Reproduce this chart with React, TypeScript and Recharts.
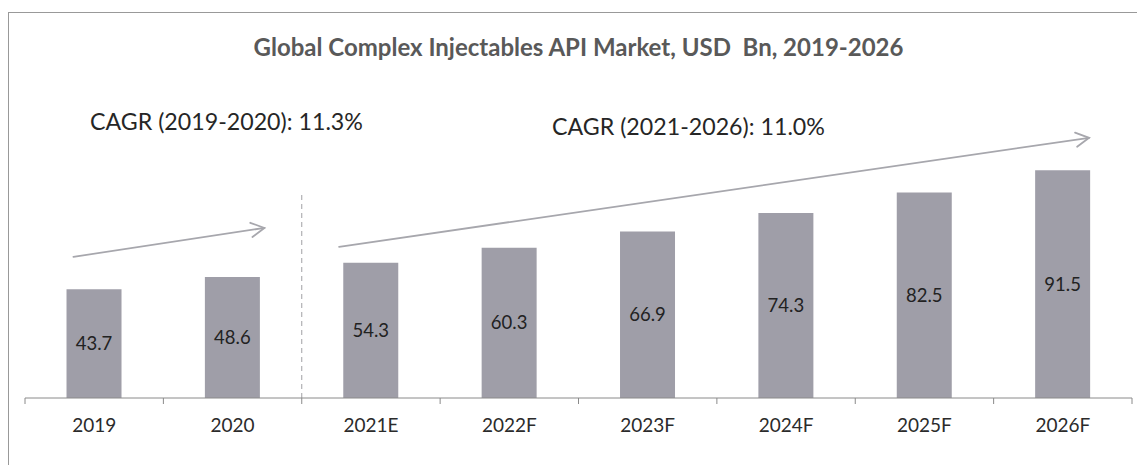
import { BarChart, Bar, XAxis, YAxis, LabelList, ReferenceLine } from "recharts";

const categories = ["2019", "2020", "2021E", "2022F", "2023F", "2024F", "2025F", "2026F"];
const marketSize = [43.7, 48.6, 54.3, 60.3, 66.9, 74.3, 82.5, 91.5];
const title = "Global Complex Injectables API Market, USD  Bn, 2019-2026";
const cagrLabels = ["CAGR (2019-2020): 11.3%", "CAGR (2021-2026): 11.0%"];

// arrow annotations, in (category slot, value) units
const historicArrow = [{ x: 0.35, y: 56.7 }, { x: 1.73, y: 68.3 }];
const forecastArrow = [{ x: 2.27, y: 60.7 }, { x: 7.69, y: 104.5 }];
const splitLine = [{ x: 2, y: 0 }, { x: 2, y: 81.6 }];

const chartData = categories.map((c, i) => ({ year: c, slot: i, value: marketSize[i] }));

const FONT = "Lato, 'Noto Sans', sans-serif";
const BAR = "#9f9ea8";
const AXIS = "#8a8a8a";
const ARROW = "#a7a7ad";

function YearTick(props: any) {
  const { x, y, payload, index } = props;
  const half = payload?.offset ?? 69;
  return (
    <g>
      <line x1={x - half} x2={x - half} y1={y} y2={y + 6} stroke={AXIS} />
      {index === categories.length - 1 && (
        <line x1={x + half} x2={x + half} y1={y} y2={y + 6} stroke={AXIS} />
      )}
      <text x={x} y={y + 34} textAnchor="middle" fontSize={19} fill="#2b2b2b" fontFamily={FONT}>
        {payload.value}
      </text>
    </g>
  );
}

function Arrow(props: any) {
  const { x1, y1, x2, y2 } = props;
  const ang = Math.atan2(y2 - y1, x2 - x1);
  const len = 15;
  const spread = 0.5;
  const ax = x2 - len * Math.cos(ang - spread);
  const ay = y2 - len * Math.sin(ang - spread);
  const bx = x2 - len * Math.cos(ang + spread);
  const by = y2 - len * Math.sin(ang + spread);
  return (
    <g stroke={ARROW} strokeWidth={1.8} fill="none" strokeLinecap="round">
      <line x1={x1} y1={y1} x2={x2} y2={y2} />
      <polyline points={`${ax},${ay} ${x2},${y2} ${bx},${by}`} />
    </g>
  );
}

export default function App() {
  return (
    <div style={{ position: "relative", width: 1137, height: 457, fontFamily: FONT }}>
      <div
        style={{
          position: "absolute",
          top: 4,
          left: 0,
          width: 1137,
          height: 453,
          borderTop: "1px solid #999",
          borderLeft: "1px solid #999",
          boxSizing: "border-box",
        }}
      />
      <div
        style={{
          position: "absolute",
          left: 170.5,
          top: 24,
          width: 800,
          textAlign: "center",
          fontSize: 24,
          lineHeight: "30px",
          fontWeight: 700,
          color: "#595959",
          whiteSpace: "pre",
        }}
      >
        {title}
      </div>
      <div style={{ position: "absolute", left: 82, top: 99, fontSize: 23.2, lineHeight: "28px", color: "#262626" }}>
        {cagrLabels[0]}
      </div>
      <div style={{ position: "absolute", left: 544, top: 104, fontSize: 23.2, lineHeight: "28px", color: "#262626" }}>
        {cagrLabels[1]}
      </div>
      <BarChart
        width={1137}
        height={457}
        data={chartData}
        margin={{ top: 141, right: 13, bottom: 37, left: 17 }}
        barCategoryGap="30%"
        style={{ position: "absolute", left: 0, top: 0 }}
      >
        <XAxis
          dataKey="year"
          height={30}
          axisLine={{ stroke: AXIS }}
          tickLine={false}
          tickSize={0}
          tickMargin={0}
          tick={<YearTick />}
          interval={0}
        />
        <XAxis xAxisId="n" dataKey="slot" type="number" domain={[0, 8]} allowDataOverflow hide />
        <YAxis hide domain={[0, 100]} width={0} />
        <Bar dataKey="value" fill={BAR} isAnimationActive={false}>
          <LabelList dataKey="value" position="center" fill="#222" fontSize={18.5} fontFamily={FONT} />
        </Bar>
        <ReferenceLine
          xAxisId="n"
          segment={splitLine}
          stroke="#a0a0a5"
          strokeDasharray="5 4"
          ifOverflow="visible"
        />
        <ReferenceLine xAxisId="n" segment={historicArrow} ifOverflow="visible" shape={<Arrow />} />
        <ReferenceLine xAxisId="n" segment={forecastArrow} ifOverflow="visible" shape={<Arrow />} />
      </BarChart>
    </div>
  );
}
